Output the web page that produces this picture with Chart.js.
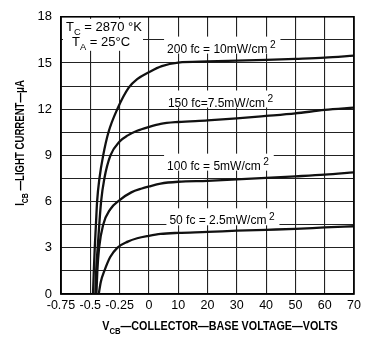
<!DOCTYPE html>
<html>
<head>
<meta charset="utf-8">
<script src="https://cdn.jsdelivr.net/npm/chart.js@4.4.1/dist/chart.umd.min.js"></script>
<style>
  html, body { margin: 0; padding: 0; background: #fff; }
  #wrap { width: 369px; height: 341px; }
</style>
</head>
<body>
<div id="wrap"><canvas id="chart" width="369" height="341"></canvas></div>
<script>
// x axis is split: -0.75..0 V in 0.25 V steps, then 0..70 V in 10 V steps
const xTickLabels = ["-0.75", "-0.5", "-0.25", "0", "10", "20", "30", "40", "50", "60", "70"];
const yTickStep = 1.5;

// 200 fc = 10 mW/cm2
const volts200 = [-0.477, -0.47, -0.462, -0.452, -0.442, -0.422, -0.39, -0.345, -0.27, -0.172, -0.1, 0, 4.4, 10, 20, 30, 40, 50, 60, 70];
const amps200 = [0, 1.5, 3, 4.5, 6, 7.5, 9, 10.5, 12, 13.4, 13.95, 14.4, 14.8, 15.03, 15.1, 15.15, 15.2, 15.27, 15.35, 15.48];
// 150 fc = 7.5 mW/cm2
const volts150 = [-0.457, -0.45, -0.437, -0.408, -0.38, -0.328, -0.25, -0.18, -0.1, 0, 4, 10, 20, 30, 40, 50, 60, 70];
const amps150 = [0, 1.5, 3, 6, 7.5, 9, 9.9, 10.3, 10.6, 10.85, 11.05, 11.17, 11.27, 11.4, 11.56, 11.73, 11.95, 12.1];
// 100 fc = 5 mW/cm2
const volts100 = [-0.448, -0.44, -0.425, -0.39, -0.33, -0.25, -0.15, -0.06, 0, 4, 10, 20, 30, 40, 50, 60, 70];
const amps100 = [0, 1.5, 3, 4.5, 5.5, 6.1, 6.6, 6.85, 6.98, 7.17, 7.29, 7.35, 7.44, 7.54, 7.64, 7.75, 7.9];
// 50 fc = 2.5 mW/cm2
const volts50 = [-0.428, -0.41, -0.38, -0.33, -0.27, -0.18, -0.1, 0, 4, 10, 20, 30, 40, 50, 60, 70];
const amps50 = [0, 0.8, 1.5, 2.4, 3.0, 3.4, 3.62, 3.78, 3.9, 3.97, 4.03, 4.11, 4.17, 4.23, 4.32, 4.4];

const curveLabels = [
  { fc: "200 fc = 10mW/cm", x: 3.62, y: 16.0 },
  { fc: "150 fc=7.5mW/cm", x: 3.65, y: 12.5 },
  { fc: "100 fc = 5mW/cm", x: 3.62, y: 8.4 },
  { fc: "50 fc = 2.5mW/cm", x: 3.7, y: 4.85 },
];

const FONT = "'Liberation Sans', Arial, sans-serif";

// volts -> position on the split axis (one grid division per step)
function toAxis(v) {
  return v <= 0 ? (v + 0.75) / 0.25 : 3 + v / 10;
}

function points(volts, amps) {
  return volts.map((v, i) => ({ x: toAxis(v), y: amps[i] }));
}

// draws text runs with subscripts / superscripts, optionally condensed by sx
function drawRuns(ctx, runs, x, y, size, align, weight, sx) {
  weight = weight || "normal";
  sx = sx || 1;
  const fontOf = (r) => weight + " " + (r.sub ? size * 0.72 : r.sup ? size * 0.85 : size) + "px " + FONT;
  const widths = runs.map((r) => {
    ctx.font = fontOf(r);
    return ctx.measureText(r.t).width + (r.gap || 0);
  });
  const total = widths.reduce((a, b) => a + b, 0);
  ctx.save();
  ctx.translate(x, y);
  ctx.scale(sx, 1);
  let cx = align === "center" ? -total / 2 : 0;
  ctx.textBaseline = "alphabetic";
  ctx.textAlign = "left";
  runs.forEach((r, i) => {
    ctx.font = fontOf(r);
    const dy = r.sub ? size * 0.3 : r.sup ? -size * 0.4 : 0;
    ctx.fillText(r.t, cx + (r.gap || 0), dy);
    cx += widths[i];
  });
  ctx.restore();
  return total * sx;
}

const textPlugin = {
  id: "texts",
  beforeDatasetsDraw(chart) {
    const { ctx, scales } = chart;
    ctx.save();
    curveLabels.forEach((l) => {
      const px = scales.x.getPixelForValue(l.x);
      const py = scales.y.getPixelForValue(l.y);
      ctx.font = "12px " + FONT;
      const w = ctx.measureText(l.fc).width + 12;
      ctx.fillStyle = "#fff";
      ctx.fillRect(px - 3, py - 11, w + 4, 17);
      ctx.fillStyle = "#000";
      drawRuns(ctx, [{ t: l.fc }, { t: "2", sup: true, gap: 2.5 }], px, py + 5, 12, "left");
    });
    ctx.restore();
  },
  afterDraw(chart) {
    const { ctx, chartArea: a } = chart;
    ctx.save();
    ctx.strokeStyle = "#000";
    ctx.lineWidth = 1.6;
    ctx.strokeRect(a.left, a.top, a.right - a.left, a.bottom - a.top);
    // conditions box text
    ctx.fillStyle = "#fff";
    ctx.fillRect(a.left + 2, a.top + 2, 80, 32);
    ctx.fillStyle = "#000";
    drawRuns(ctx, [{ t: "T" }, { t: "C", sub: true }, { t: " = 2870 °K" }], a.left + 5, a.top + 14, 13, "left");
    drawRuns(ctx, [{ t: "T" }, { t: "A", sub: true }, { t: " = 25°C" }], a.left + 11, a.top + 29, 13, "left");
    // axis titles
    drawRuns(ctx, [{ t: "V" }, { t: "CB", sub: true }, { t: "—COLLECTOR—BASE VOLTAGE—VOLTS" }], 220, 330, 12.5, "center", "bold", 0.86);
    ctx.translate(24, 143);
    ctx.rotate(-Math.PI / 2);
    drawRuns(ctx, [{ t: "I" }, { t: "CB", sub: true }, { t: " —LIGHT CURRENT—μA" }], 0, 0, 12, "center", "bold", 0.8);
    ctx.restore();
  },
};

const lineStyle = {
  borderColor: "#111",
  borderWidth: 2.3,
  pointRadius: 0,
  fill: false,
  cubicInterpolationMode: "monotone",
};

new Chart(document.getElementById("chart").getContext("2d"), {
  type: "line",
  data: {
    datasets: [
      { label: "200 fc", data: points(volts200, amps200), ...lineStyle },
      { label: "150 fc", data: points(volts150, amps150), ...lineStyle },
      { label: "100 fc", data: points(volts100, amps100), ...lineStyle },
      { label: "50 fc", data: points(volts50, amps50), ...lineStyle },
    ],
  },
  options: {
    responsive: false,
    animation: false,
    layout: { padding: { top: 8, right: 15, left: 0, bottom: 0 } },
    plugins: { legend: { display: false }, tooltip: { enabled: false } },
    scales: {
      x: {
        type: "linear",
        min: 0,
        max: xTickLabels.length - 1,
        afterFit: (s) => { s.height = 47; },
        grid: { color: "#222", lineWidth: 1.1, drawTicks: false },
        border: { color: "#000", width: 1.5 },
        ticks: {
          stepSize: 1,
          autoSkip: false,
          maxRotation: 0,
          padding: 4,
          color: "#000",
          font: { family: FONT, size: 12.5 },
          callback: (v) => xTickLabels[Math.round(v)],
        },
      },
      y: {
        min: 0,
        max: 18,
        afterFit: (s) => { s.width = 61; },
        grid: { color: "#222", lineWidth: 1.1, drawTicks: false },
        border: { color: "#000", width: 1.5 },
        ticks: {
          stepSize: yTickStep,
          padding: 9,
          color: "#000",
          font: { family: FONT, size: 13 },
          callback: (v) => (v % 3 === 0 ? v : ""),
        },
      },
    },
  },
  plugins: [textPlugin],
});
</script>
</body>
</html>
